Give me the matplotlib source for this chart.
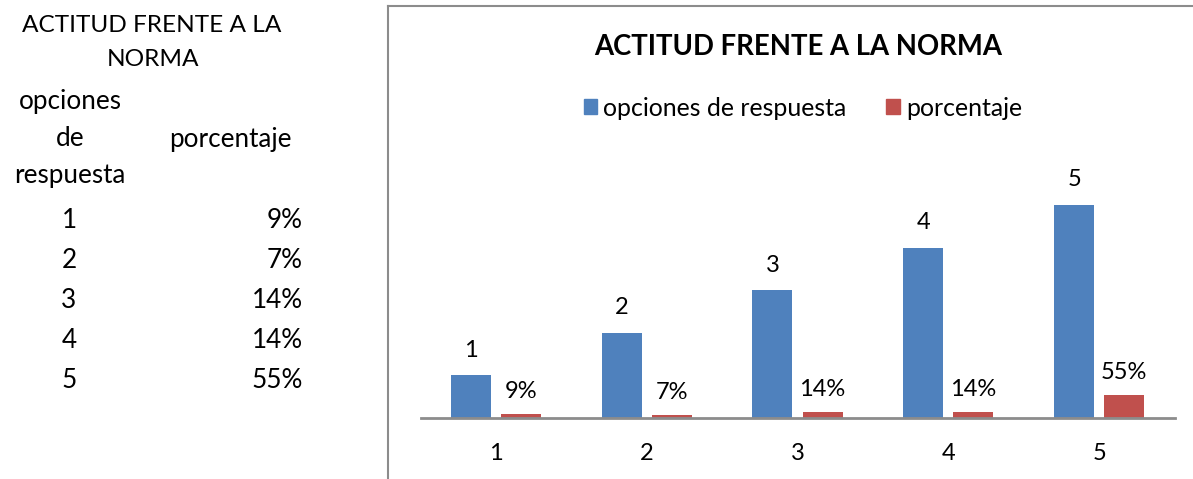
import matplotlib.pyplot as plt
import numpy as np
from matplotlib.lines import Line2D
from matplotlib.patches import Patch

plt.rcParams["font.family"] = ["Lato", "DejaVu Sans"]

categories = ["1", "2", "3", "4", "5"]
opciones = [1, 2, 3, 4, 5]
porcentaje = [0.09, 0.07, 0.14, 0.14, 0.55]
porcentaje_labels = ["9%", "7%", "14%", "14%", "55%"]

title = "ACTITUD FRENTE A LA NORMA"
blue = "#4F81BD"
red = "#C0504D"

W, H = 1193, 479
fig = plt.figure(figsize=(W / 100, H / 100), dpi=100)


def fx(px):
    return px / W


def fy(py):
    return 1 - py / H


# table on the left (spreadsheet cells)
fs_caps = 17.6
fs_tab = 18.8
fig.text(fx(152), fy(26), "ACTITUD FRENTE A LA", ha="center", va="center", fontsize=fs_caps)
fig.text(fx(153), fy(60), "NORMA", ha="center", va="center", fontsize=fs_caps)
fig.text(fx(70), fy(102), "opciones", ha="center", va="center", fontsize=fs_tab)
fig.text(fx(70), fy(139), "de", ha="center", va="center", fontsize=fs_tab)
fig.text(fx(70), fy(175), "respuesta", ha="center", va="center", fontsize=fs_tab)
fig.text(fx(230), fy(139), "porcentaje", ha="center", va="center", fontsize=fs_tab)
for i, (o, lab) in enumerate(zip(opciones, porcentaje_labels)):
    y = 220 + i * 40.2
    fig.text(fx(69), fy(y), str(o), ha="center", va="center", fontsize=fs_tab)
    fig.text(fx(303), fy(y), lab, ha="right", va="center", fontsize=fs_tab)

# chart frame (cut off at right and bottom)
frame_col = "#8c8c8c"
fig.add_artist(Line2D([fx(388), fx(388)], [fy(6), 0], color=frame_col, lw=1.5))
fig.add_artist(Line2D([fx(388), 1], [fy(6), fy(6)], color=frame_col, lw=1.5))

# plot area
left, right, bottom, top = 420.5, 1174.5, 418, 162.4
ax = fig.add_axes([fx(left), fy(bottom), fx(right - left), (bottom - top) / H])
x = np.arange(len(categories))
w = 0.265
off = 0.166
ax.bar(x - off, opciones, w, color=blue)
ax.bar(x + off, porcentaje, w, color=red)
ax.set_xlim(-0.5, len(categories) - 0.5)
ax.set_ylim(0, 6)
for s in ["left", "right", "top"]:
    ax.spines[s].set_visible(False)
ax.spines["bottom"].set_color("#8c8c8c")
ax.spines["bottom"].set_linewidth(2)
ax.set_yticks([])
ax.set_xticks(x)
ax.set_xticklabels(categories, fontsize=17)
ax.tick_params(axis="x", length=0, pad=18)
ax.patch.set_alpha(0)

for xi, v in zip(x, opciones):
    ax.annotate(str(v), (xi - off, v), xytext=(0, 10.5), textcoords="offset points",
                ha="center", va="bottom", fontsize=17)
for xi, v, lab in zip(x, porcentaje, porcentaje_labels):
    ax.annotate(lab, (xi + off, v), xytext=(0, 8.5), textcoords="offset points",
                ha="center", va="bottom", fontsize=17)

fig.text(fx(798), fy(47), title, ha="center", va="center", fontsize=19.8, fontweight="bold")
handles = [Patch(color=blue), Patch(color=red)]
fig.legend(handles, ["opciones de respuesta", "porcentaje"], loc="center",
           bbox_to_anchor=(fx(803), fy(108)), ncol=2, frameon=False, fontsize=17.9,
           handlelength=0.55, handleheight=0.55, handletextpad=0.25, columnspacing=1.6)

fig.savefig("out.png", dpi=100)
